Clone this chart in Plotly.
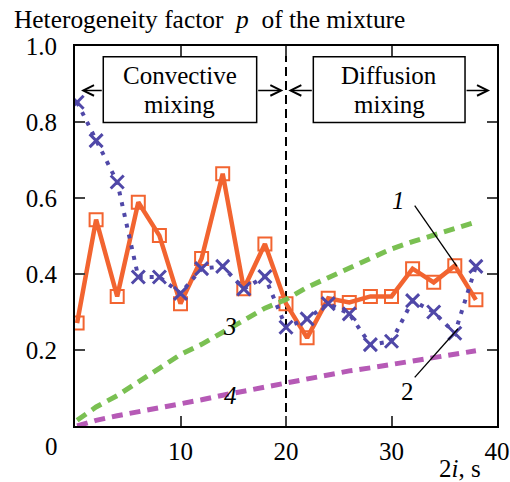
import plotly.graph_objects as go

# ---- data ----
x_vals = [0.2, 2, 4, 6, 8, 10, 12, 14, 16, 18, 20, 22, 24, 26, 28, 30, 32, 34, 36, 38]
p_curve1 = [0.271, 0.543, 0.341, 0.589, 0.501, 0.322, 0.441, 0.664, 0.361, 0.479,
            0.322, 0.232, 0.336, 0.325, 0.341, 0.341, 0.414, 0.378, 0.422, 0.332]
p_curve2 = [0.852, 0.751, 0.642, 0.392, 0.392, 0.349, 0.414, 0.420, 0.361, 0.393,
            0.260, 0.282, 0.322, 0.295, 0.214, 0.223, 0.330, 0.300, 0.244, 0.420]
p_curve3 = [0.015, 0.05, 0.08, 0.115, 0.15, 0.188, 0.215, 0.245, 0.278, 0.31,
            0.333, 0.365, 0.39, 0.415, 0.44, 0.466, 0.485, 0.503, 0.52, 0.537]
p_curve4 = [0.0, 0.015, 0.027, 0.037, 0.046, 0.056, 0.069, 0.081, 0.092, 0.103,
            0.114, 0.123, 0.135, 0.145, 0.153, 0.162, 0.172, 0.182, 0.19, 0.198]
x_ticks = [10, 20, 30, 40]
y_ticks = [0.2, 0.4, 0.6, 0.8, 1.0]
y_ticktext = ["0.2", "0.4", "0.6", "0.8", "1.0"]

ORANGE = "#F26430"
BLUE = "#5048A8"
GREEN = "#7AC052"
MAGENTA = "#B65AB6"
FONT = "Liberation Serif"
FS = 25

fig = go.Figure()
fig.add_trace(go.Scatter(x=x_vals, y=p_curve1, mode="lines+markers",
                         line=dict(color=ORANGE, width=4.5),
                         marker=dict(symbol="square-open", size=13, color=ORANGE,
                                     line=dict(width=2, color=ORANGE))))
fig.add_trace(go.Scatter(x=x_vals, y=p_curve2, mode="lines+markers",
                         line=dict(color=BLUE, width=4, dash="4px,7px"),
                         marker=dict(symbol="x-thin-open", size=13, color=BLUE,
                                     line=dict(width=3, color=BLUE))))
fig.add_trace(go.Scatter(x=x_vals, y=p_curve3, mode="lines",
                         line=dict(color=GREEN, width=5, dash="11px,7px")))
fig.add_trace(go.Scatter(x=x_vals, y=p_curve4, mode="lines",
                         line=dict(color=MAGENTA, width=5, dash="11px,7px")))

# vertical separator
fig.add_shape(type="line", x0=20, x1=20, y0=0, y1=1, xref="x", yref="y",
              line=dict(color="black", width=2, dash="9px,5px"), layer="below")

# boxes
for bx0, bx1 in [(2.68, 17.22), (22.59, 36.97)]:
    fig.add_shape(type="rect", x0=bx0, x1=bx1, y0=0.799, y1=0.972, xref="x", yref="y",
                  line=dict(color="black", width=1.5), fillcolor="white", layer="above")

annos = []
def txt(x, y, t, ref="x", size=FS, **kw):
    d = dict(x=x, y=y, xref=ref, yref=("y" if ref == "x" else "paper"), text=t,
             showarrow=False, xanchor="center", yanchor="middle",
             font=dict(family=FONT, size=size, color="black"))
    d.update(kw)
    annos.append(d)

txt(9.95, 0.922, "Convective")
txt(9.95, 0.847, "mixing")
txt(29.8, 0.922, "Diffusion")
txt(29.8, 0.847, "mixing")

# arrows
for hx, tx in [(0.57, 2.68), (19.75, 17.22), (20.22, 22.59), (39.34, 36.97)]:
    annos.append(dict(x=hx, y=0.883, ax=tx, ay=0.883, xref="x", yref="y",
                      axref="x", ayref="y", text="", showarrow=True,
                      arrowhead=5, arrowsize=1.4, arrowwidth=1.5, arrowcolor="black",
                      standoff=0, startstandoff=0))

# curve labels
txt(30.7, 0.593, "<i>1</i>")
txt(31.5, 0.091, "2")
txt(14.7, 0.262, "<i>3</i>")
txt(14.77, 0.079, "<i>4</i>")
fig.add_shape(type="line", x0=32.2, y0=0.58, x1=36.2, y1=0.42, xref="x", yref="y",
              line=dict(color="black", width=1.3))
fig.add_shape(type="line", x0=32.2, y0=0.128, x1=36.3, y1=0.256, xref="x", yref="y",
              line=dict(color="black", width=1.3))

# origin label, axis title, chart title (paper coordinates)
txt(-0.055, -0.054, "0", ref="paper")
txt(0.912, -0.111, "2<i>i</i>, s", ref="paper")
txt(-0.149, 1.072, "Heterogeneity factor  <i>p</i>  of the mixture", ref="paper",
    size=25.4, xanchor="left")

fig.update_layout(
    width=510, height=482, autosize=False,
    margin=dict(l=75, r=13, t=46, b=56),
    paper_bgcolor="white", plot_bgcolor="white",
    showlegend=False,
    font=dict(family=FONT, size=FS, color="black"),
    annotations=annos,
    xaxis=dict(range=[0, 40], tickvals=x_ticks, ticks="inside", ticklen=10, tickwidth=2,
               showline=True, linewidth=2, linecolor="black", mirror="ticks",
               showgrid=False, zeroline=False, automargin=False,
               ticklabelstandoff=2,
               tickfont=dict(family=FONT, size=FS, color="black")),
    yaxis=dict(range=[0, 1], tickvals=y_ticks, ticktext=y_ticktext, ticks="inside",
               ticklen=10, tickwidth=2,
               showline=True, linewidth=2, linecolor="black", mirror="ticks",
               showgrid=False, zeroline=False, automargin=False,
               ticklabelstandoff=11,
               tickfont=dict(family=FONT, size=FS, color="black")),
)
fig.write_html("out.html",
               config={"displayModeBar": False, "staticPlot": True},
               post_script="document.body.style.margin='0px';"
                           "document.body.style.overflow='hidden';")
